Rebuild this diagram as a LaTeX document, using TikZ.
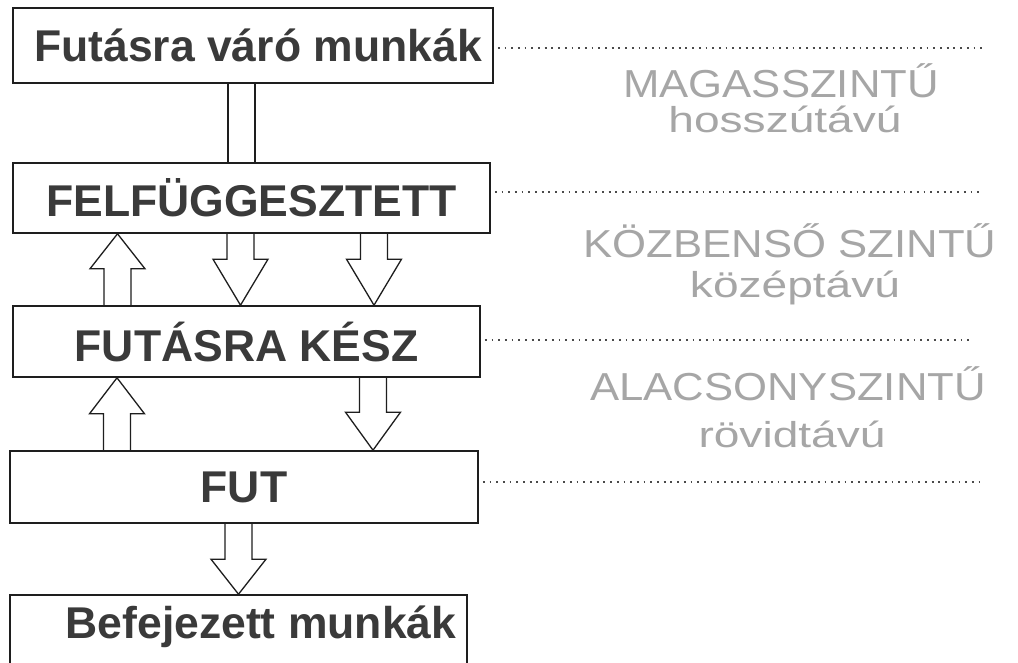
\documentclass[tikz,border=0pt]{standalone}
\usepackage{fontspec}
\setmainfont{Liberation Sans}
\newfontfamily\levelfont[FakeStretch=1.12]{Liberation Sans}
\newfontfamily\termfont[FakeStretch=1.28]{Liberation Sans}
\usepackage{tikz}
\usetikzlibrary{calc}

\definecolor{boxline}{HTML}{1E1E1E}
\definecolor{boxtext}{HTML}{3A3A3A}
\definecolor{levelgray}{HTML}{A6A6A6}
\definecolor{dotgray}{HTML}{4A4A4A}

% hollow block arrow: start, tip, head length
\newcommand{\fatarrow}[3]{%
  \draw[fatarrow] let \p1=(#1), \p2=(#2), \n1={sign(\y1-\y2)} in
    (\x1-13.5pt,\y1) -- (\x1-13.5pt,\y2+\n1*#3) -- (\x1-27.5pt,\y2+\n1*#3) -- (\x2,\y2)
    -- (\x1+27.5pt,\y2+\n1*#3) -- (\x1+13.5pt,\y2+\n1*#3) -- (\x1+13.5pt,\y1);}

\begin{document}
\begin{tikzpicture}[x=1pt,y=-1pt,
    state/.style={draw=boxline,line width=1.6pt,fill=white,inner sep=0pt,
      text=boxtext,font=\fontsize{44.5}{50}\selectfont\bfseries},
    fatarrow/.style={draw=boxline,line width=1.3pt,line join=miter},
    level/.style={draw=dotgray,line width=1.8pt,dash pattern=on 1.8pt off 4.9pt,shorten <=4pt},
    levelname/.style={anchor=base,inner sep=0pt,text=levelgray,font=\levelfont\fontsize{39}{44}\selectfont},
    termname/.style={anchor=base,inner sep=0pt,text=levelgray,font=\termfont\fontsize{36}{40}\selectfont}]
  \useasboundingbox[fill=white] (0,0) rectangle (1018,663);

  \node[state,minimum width=480pt,minimum height=75pt](wait)  at (253,45.5)  {\hspace*{10pt}Futásra váró munkák};
  \node[state,minimum width=477pt,minimum height=70pt](held)  at (251.5,198) {FELFÜGGESZTETT};
  \node[state,minimum width=467pt,minimum height=71pt](ready) at (246.5,341.5){FUTÁSRA KÉSZ};
  \node[state,minimum width=468pt,minimum height=72pt](run)   at (244,487)   {FUT};
  \node[state,minimum width=457pt,minimum height=100pt](done) at (238.5,645) {};
  \node[state,draw=none,fill=none,anchor=base] at (261,638) {Befejezett munkák};

  % arrows between the states
  \draw[fatarrow] (228,0 |- wait.south) rectangle (255,0 |- held.north);
  \fatarrow{117.5,0 |- ready.north}{117.5,0 |- held.south}{35pt}
  \fatarrow{240.5,0 |- held.south}{240.5,0 |- ready.north}{46pt}
  \fatarrow{374,0 |- held.south}{374,0 |- ready.north}{46pt}
  \fatarrow{117,0 |- run.north}{117,0 |- ready.south}{36pt}
  \fatarrow{373,0 |- ready.south}{373,0 |- run.north}{38pt}
  \fatarrow{238.5,0 |- run.south}{238.5,0 |- done.north}{35pt}

  % level borders
  \coordinate (m1) at (982,48);
  \coordinate (m2) at (982,192);
  \coordinate (m3) at (970,340);
  \coordinate (m4) at (982,482);
  \draw[level] (wait.east |- m1)  -- (m1);
  \draw[level] (held.east |- m2)  -- (m2);
  \draw[level] (ready.east |- m3) -- (m3);
  \draw[level] (run.east |- m4)   -- (m4);

  \node[levelname] (high)  at (781,98)  {MAGASSZINTŰ};
  \node[termname]  (long)  at (785,133) {hosszútávú};
  \node[levelname] (mid)   at (790,258) {KÖZBENSŐ SZINTŰ};
  \node[termname]  (medium)at (795,298) {középtávú};
  \node[levelname] (low)   at (788,400) {ALACSONYSZINTŰ};
  \node[termname]  (short) at (792,447) {rövidtávú};
\end{tikzpicture}
\end{document}
